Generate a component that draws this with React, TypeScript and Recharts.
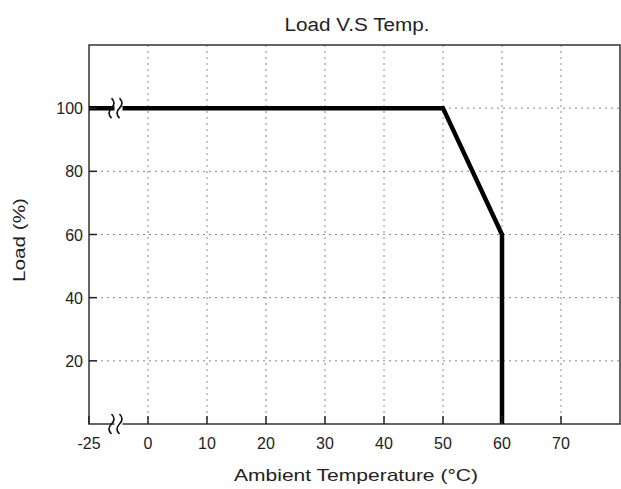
import { LineChart, Line, XAxis, YAxis, CartesianGrid, ReferenceArea, ReferenceDot } from "recharts";

const temps = [-10, 50, 60, 60];
const loads = [100, 100, 60, 0];
const xTicks = [-10, 0, 10, 20, 30, 40, 50, 60, 70];
const xTickLabels = ["-25", "0", "10", "20", "30", "40", "50", "60", "70"];
const yTicks = [20, 40, 60, 80, 100];
const breakAt = -5;

const data = temps.map((t, i) => ({ temp: t, load: loads[i] }));

const PLOT_LEFT = 89;
const PLOT_RIGHT = 620;
const PLOT_TOP = 45;
const PLOT_BOTTOM = 424;
const FONT = "'Liberation Sans', Arial, sans-serif";

function XTick(props: any) {
  const { x, payload } = props;
  const idx = xTicks.indexOf(payload.value);
  return (
    <text x={x} y={PLOT_BOTTOM + 25} textAnchor="middle" fontSize={16} fontFamily={FONT} fill="#222">
      {xTickLabels[idx]}
    </text>
  );
}

function YTick(props: any) {
  const { y, payload } = props;
  return (
    <text x={PLOT_LEFT - 6} y={y + 6} textAnchor="end" fontSize={16} fontFamily={FONT} fill="#222">
      {payload.value}
    </text>
  );
}

function NoTick() {
  return <g />;
}

function BreakMark(props: any) {
  const { cx, cy } = props;
  if (cx == null || cy == null) return null;
  return (
    <g>
      <rect x={cx - 4} y={cy - 6} width={8} height={12} fill="#fff" />
      <path d={`M${cx - 7},${cy - 10} q5,5 0,10 q-5,5 0,10`} fill="none" stroke="#111" strokeWidth={1.6} />
      <path d={`M${cx + 1},${cy - 10} q5,5 0,10 q-5,5 0,10`} fill="none" stroke="#111" strokeWidth={1.6} />
    </g>
  );
}

export default function App() {
  return (
    <div style={{ position: "absolute", left: 0, top: 0, width: 621, height: 489, background: "#fff" }}>
      <LineChart
        width={621}
        height={489}
        data={data}
        margin={{ top: PLOT_TOP, right: 0, bottom: 35, left: 0 }}
      >
        <text x={357} y={31} textAnchor="middle" fontSize={18} fontFamily={FONT} fill="#222" textLength={145} lengthAdjust="spacingAndGlyphs">
          Load V.S Temp.
        </text>
        <text x={356} y={481} textAnchor="middle" fontSize={17} fontFamily={FONT} fill="#222" textLength={244} lengthAdjust="spacingAndGlyphs">
          Ambient Temperature (°C)
        </text>
        <text x={0} y={0} transform="translate(25,240) rotate(-90)" textAnchor="middle" fontSize={17} fontFamily={FONT} fill="#222" textLength={84} lengthAdjust="spacingAndGlyphs">
          Load (%)
        </text>
        <CartesianGrid
          yAxisId="left"
          stroke="#888"
          strokeDasharray="2 4"
          verticalValues={xTicks.slice(1)}
          horizontalValues={yTicks}
        />
        <XAxis
          type="number"
          dataKey="temp"
          domain={[-10, 80]}
          ticks={xTicks}
          tick={<XTick />}
          tickSize={-8}
          tickLine={{ stroke: "#222", strokeWidth: 1.5 }}
          axisLine={false}
          height={30}
          interval={0}
        />
        <YAxis
          yAxisId="left"
          type="number"
          domain={[0, 120]}
          ticks={yTicks}
          tick={<YTick />}
          tickSize={-8}
          tickLine={{ stroke: "#222", strokeWidth: 1.5 }}
          axisLine={false}
          width={PLOT_LEFT}
          interval={0}
        />
        <YAxis
          yAxisId="right"
          orientation="right"
          type="number"
          domain={[0, 120]}
          ticks={yTicks}
          tick={<NoTick />}
          tickSize={-8}
          tickLine={{ stroke: "#222", strokeWidth: 1.5 }}
          axisLine={false}
          width={621 - PLOT_RIGHT}
          interval={0}
        />
        <ReferenceArea yAxisId="left" x1={-10} x2={80} y1={0} y2={120} fill="none" stroke="#333" strokeWidth={1.5} />
        <Line
          yAxisId="left"
          type="linear"
          dataKey="load"
          stroke="#000"
          strokeWidth={4.5}
          dot={false}
          isAnimationActive={false}
          strokeLinejoin="miter"
        />
        <ReferenceDot yAxisId="left" x={breakAt} y={100} r={0} shape={<BreakMark />} />
        <ReferenceDot yAxisId="left" x={breakAt} y={0} r={0} shape={<BreakMark />} />
      </LineChart>
    </div>
  );
}
